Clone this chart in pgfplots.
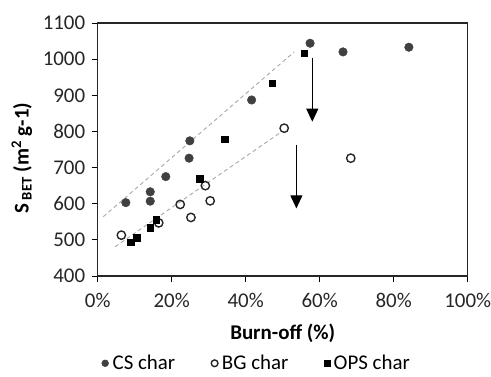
\documentclass[border=0pt]{standalone}
\usepackage{fontspec}
\setmainfont{Carlito}
\usepackage{pgfplots}
\pgfplotsset{compat=1.18}
\usetikzlibrary{arrows.meta}
\definecolor{csgray}{HTML}{404040}
\definecolor{dashgray}{HTML}{A8A8A8}
\begin{document}
\begin{tikzpicture}
\useasboundingbox (-97.7bp,-101bp) rectangle (393.3bp,276bp);
\begin{axis}[
  scale only axis, width=370bp, height=253bp,
  xmin=0, xmax=100, ymin=400, ymax=1100,
  xtick={0,20,...,100}, ytick={400,500,...,1100},
  xticklabel={\pgfmathprintnumber{\tick}\%},
  /pgf/number format/assume math mode=true,
  /pgf/number format/1000 sep={},
  xtick pos=bottom, ytick pos=left,
  tick align=outside,
  major tick length=6bp,
  tick style={black, line width=1pt},
  axis line style={black!85, line width=1.2pt},
  tick label style={font=\fontsize{21}{24}\selectfont, text=black!85},
  xticklabel style={yshift=-8bp},
  yticklabel style={xshift=-3bp},
  xlabel={\textbf{Burn-off (\%)}},
  ylabel={\textbf{S\,\textsubscript{BET} (m\textsuperscript{2} g-1)}},
  label style={font=\fontsize{21}{24}\selectfont},
  xlabel style={at={(axis description cs:0.5,-0.225)}, anchor=center},
  ylabel style={at={(axis description cs:-0.205,0.466)}, anchor=center},
  legend style={at={(0.43,-0.345)}, anchor=center, draw=none, inner sep=1bp,
    font=\fontsize{21}{24}\selectfont, legend columns=-1,
    /tikz/every even column/.append style={column sep=34bp},
    /tikz/every odd column/.append style={column sep=2bp}},
  legend image post style={scale=0.8},
  clip=false,
]
\addplot[dashgray, dashed, line width=0.9pt, dash pattern=on 4pt off 3pt, forget plot]
  coordinates {(1.5,564) (53.1,1020)};
\addplot[dashgray, dashed, line width=0.9pt, dash pattern=on 4pt off 3pt, forget plot]
  coordinates {(4.7,481) (49.1,795)};
\addplot[only marks, mark=*, mark size=4.3bp, mark options={fill=csgray, draw=csgray}]
  coordinates {(7.6,603) (14.2,633) (14.2,607) (18.4,675) (24.7,726) (24.9,774)
    (41.6,887) (57.4,1044) (66.3,1020) (84.1,1033)};
\addlegendentry{CS char}
\addplot[only marks, mark=o, mark size=4.2bp, mark options={draw=black!85, line width=1.4pt, fill=white}]
  coordinates {(6.4,513) (16.5,547) (22.3,598) (25.2,562) (29.1,650) (30.4,608)
    (50.4,809) (68.4,726)};
\addlegendentry{BG char}
\addplot[only marks, mark=square*, mark size=3.3bp, mark options={fill=black, draw=black}]
  coordinates {(8.9,494) (10.6,506) (14.2,534) (15.8,556) (27.6,670) (34.4,778)
    (47.2,933) (55.8,1016)};
\addlegendentry{OPS char}
\draw[line width=1pt, -{Triangle[width=12bp,length=13bp]}] (axis cs:58,1004) -- (axis cs:58,827);
\draw[line width=1pt, -{Triangle[width=12bp,length=13bp]}] (axis cs:53.7,762) -- (axis cs:53.7,587);
\end{axis}
\end{tikzpicture}
\end{document}
